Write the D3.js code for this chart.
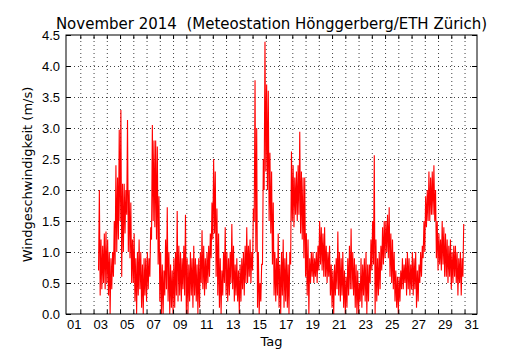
<!DOCTYPE html>
<html>
<head>
<meta charset="utf-8">
<script src="https://cdn.jsdelivr.net/npm/d3@7"></script>
<style>
  body { margin: 0; background: white; }
  svg { font-family: "DejaVu Sans", sans-serif; }
  .grid line { stroke: #000; stroke-dasharray: 1,3; stroke-width: 1; opacity: 0.75; }
  .grid path { display: none; }
  .ticks path { display: none; }
  .ticks line { stroke: #000; }
  .labels path, .labels line { display: none; }
</style>
</head>
<body>
<svg id="chart"></svg>
<script>
// x labels (day of month) and y ticks
let dayLabels = ["01","03","05","07","09","11","13","15","17","19","21","23","25","27","29","31"];
let yTickValues = [0, 0.5, 1.0, 1.5, 2.0, 2.5, 3.0, 3.5, 4.0, 4.5];

// wind speed, min and max of every 3 hour block
// first block starts Nov 3 09:00 (days counted from Nov 1 00:00)
let firstBlock = 2.375;
let blockLength = 0.125;

let windLow = [
  0.7,0.3,0.4,0.5,0.4,                 // 03
  0.5,0.3,0.0,0.4,0.6,0.8,1.0,1.2,     // 04
  1.5,0.6,1.0,1.3,1.6,1.0,0.9,0.5,     // 05
  0.5,0.2,0.0,0.3,0.4,0.1,0.0,0.3,     // 06
  0.2,0.4,0.6,1.2,1.5,1.4,1.2,0.8,     // 07
  0.2,0.0,0.0,0.3,0.4,0.2,0.0,0.1,     // 08
  0.0,0.1,0.3,0.2,0.3,0.2,0.4,0.3,     // 09
  0.0,0.0,0.2,0.3,0.1,0.3,0.2,0.0,     // 10
  0.1,0.5,0.4,0.3,0.4,0.5,0.6,0.9,     // 11
  1.2,1.3,0.6,0.3,0.1,0.0,0.3,0.5,     // 12
  0.3,0.2,0.3,0.5,0.4,0.2,0.3,0.2,     // 13
  0.0,0.2,0.4,0.3,0.5,0.5,0.6,0.5,     // 14
  0.7,1.5,1.0,0.1,0.0,0.2,0.8,2.0,     // 15
  2.3,2.0,1.5,1.3,0.8,0.3,0.2,0.3,     // 16
  0.1,0.0,0.3,0.1,0.2,0.1,0.0,0.8,     // 17
  1.5,1.4,1.6,1.5,1.6,1.3,1.2,0.9,     // 18
  0.6,0.3,0.0,0.5,0.6,0.5,0.6,0.5,     // 19
  0.7,0.8,0.7,0.6,0.6,0.5,0.6,0.3,     // 20
  0.1,0.0,0.3,0.4,0.3,0.2,0.3,0.1,     // 21
  0.0,0.1,0.3,0.4,0.4,0.3,0.1,0.0,     // 22
  0.0,0.2,0.1,0.3,0.2,0.0,0.2,0.5,     // 23
  0.7,0.8,0.0,0.2,0.3,0.4,0.7,0.8,     // 24
  0.9,1.0,0.9,0.6,0.5,0.4,0.2,0.1,     // 25
  0.0,0.2,0.4,0.4,0.5,0.3,0.4,0.3,     // 26
  0.4,0.3,0.4,0.1,0.2,0.5,0.6,0.9,     // 27
  1.0,1.4,1.5,1.5,1.6,1.6,1.5,0.9,     // 28
  0.7,0.8,0.7,0.8,0.6,0.6,0.5,0.6,     // 29
  0.4,0.5,0.6,0.5,0.3,0.5,0.3,0.6      // 30
];

let windHigh = [
  2.0,1.2,1.1,1.3,1.33,                // 03
  1.2,1.0,0.9,1.0,1.5,2.4,2.2,2.97,    // 04
  3.29,2.1,2.1,2.0,3.13,2.0,1.8,1.2,   // 05
  1.3,0.9,1.0,1.2,1.0,0.8,0.9,0.9,     // 06
  1.0,0.9,1.4,3.05,2.8,2.8,2.7,1.9,    // 07
  1.0,0.8,0.7,1.2,1.72,1.0,0.8,0.7,    // 08
  0.9,1.0,1.66,1.1,1.0,0.9,1.1,1.6,    // 09
  0.9,0.8,1.0,0.9,1.1,0.9,0.8,0.9,     // 10
  1.0,1.35,1.1,0.9,1.0,1.1,1.3,1.8,    // 11
  2.5,2.3,1.7,1.3,0.9,0.7,1.0,1.4,     // 12
  1.0,0.9,1.0,1.45,1.1,0.8,0.9,0.7,    // 13
  0.8,0.9,1.0,1.1,1.4,1.1,1.2,1.0,     // 14
  1.7,3.77,3.0,1.0,0.5,0.8,2.5,4.39,   // 15
  3.7,3.6,2.6,2.3,1.8,1.0,0.9,1.3,     // 16
  0.8,1.0,1.2,0.9,1.0,0.8,1.0,2.62,    // 17
  2.4,2.2,2.3,2.4,2.94,2.3,2.2,2.2,    // 18
  1.3,1.2,0.9,1.0,1.0,0.9,1.0,1.1,     // 19
  1.5,1.4,1.3,1.4,1.1,1.0,1.1,0.8,     // 20
  0.7,0.8,0.9,1.33,1.0,0.9,1.0,0.7,    // 21
  0.6,0.9,1.1,1.38,1.0,0.9,0.8,0.7,    // 22
  0.5,0.9,0.8,0.9,1.0,0.8,0.8,1.2,     // 23
  1.5,2.56,1.2,0.9,1.0,1.1,1.4,1.5,    // 24
  1.5,1.6,1.72,1.3,1.2,1.0,0.7,0.6,    // 25
  0.6,0.7,0.9,0.8,0.9,1.0,0.9,0.8,     // 26
  1.0,0.9,1.0,0.7,0.8,1.0,1.1,1.5,     // 27
  1.9,2.0,2.3,2.2,2.3,2.4,2.0,1.5,     // 28
  1.3,1.2,1.5,1.4,1.3,1.2,1.1,1.2,     // 29
  1.0,1.1,1.1,1.0,0.9,1.0,0.9,1.45     // 30
];

function getConfig() {
  let width = 530;
  let height = 350;
  let margin = { top: 35, bottom: 36, left: 66, right: 53 };
  let bodyWidth = width - margin.left - margin.right;
  let bodyHeight = height - margin.top - margin.bottom;
  let container = d3.select("#chart")
    .attr("width", width)
    .attr("height", height);
  return { width, height, margin, bodyWidth, bodyHeight, container };
}

function getScales(config) {
  let { bodyWidth, bodyHeight } = config;
  // days since Nov 1 00:00
  let xScale = d3.scaleLinear()
    .domain([-0.08, 30.94])
    .range([0, bodyWidth]);
  let yScale = d3.scaleLinear()
    .domain([0, 4.5])
    .range([bodyHeight, 0]);
  return { xScale, yScale };
}

function drawGrid(scales, config) {
  let { xScale, yScale } = scales;
  let { container, margin, bodyWidth, bodyHeight } = config;
  let dayLines = d3.range(1, 31);

  container.append("g")
    .attr("class", "grid")
    .attr("transform", `translate(${margin.left},${margin.top + bodyHeight})`)
    .call(d3.axisBottom(xScale).tickValues(dayLines).tickSize(-bodyHeight).tickFormat(""));

  container.append("g")
    .attr("class", "grid")
    .attr("transform", `translate(${margin.left},${margin.top})`)
    .call(d3.axisLeft(yScale).tickValues(yTickValues.slice(1, -1)).tickSize(-bodyWidth).tickFormat(""));
}

function drawWind(scales, config) {
  let { xScale, yScale } = scales;
  let { container, margin, bodyWidth, bodyHeight } = config;

  let points = [];
  windLow.forEach((lo, i) => {
    let t = firstBlock + i * blockLength;
    points.push([t, lo]);
    points.push([t + blockLength / 2, windHigh[i]]);
  });

  container.append("clipPath").attr("id", "clip")
    .append("rect").attr("width", bodyWidth).attr("height", bodyHeight);

  let line = d3.line()
    .x(d => xScale(d[0]))
    .y(d => yScale(d[1]));

  container.append("g")
    .attr("transform", `translate(${margin.left},${margin.top})`)
    .attr("clip-path", "url(#clip)")
    .append("path")
    .datum(points)
    .attr("d", line)
    .attr("fill", "none")
    .attr("stroke", "#ff0000")
    .attr("stroke-width", 1.1)
    .attr("stroke-linejoin", "miter");
}

function drawAxes(scales, config) {
  let { xScale, yScale } = scales;
  let { container, margin, bodyWidth, bodyHeight } = config;
  let dayLines = d3.range(1, 31);

  // inward ticks on all four sides
  container.append("g").attr("class", "ticks")
    .attr("transform", `translate(${margin.left},${margin.top + bodyHeight})`)
    .call(d3.axisBottom(xScale).tickValues(dayLines).tickSize(-4).tickFormat(""));
  container.append("g").attr("class", "ticks")
    .attr("transform", `translate(${margin.left},${margin.top})`)
    .call(d3.axisTop(xScale).tickValues(dayLines).tickSize(-4).tickFormat(""));
  container.append("g").attr("class", "ticks")
    .attr("transform", `translate(${margin.left},${margin.top})`)
    .call(d3.axisLeft(yScale).tickValues(yTickValues).tickSize(-5).tickFormat(""));
  container.append("g").attr("class", "ticks")
    .attr("transform", `translate(${margin.left + bodyWidth},${margin.top})`)
    .call(d3.axisRight(yScale).tickValues(yTickValues).tickSize(-5).tickFormat(""));

  // day labels sit at noon of every second day
  let labelAt = dayLabels.map(s => +s - 0.5);
  let xLabels = container.append("g").attr("class", "labels")
    .attr("transform", `translate(${margin.left},${margin.top + bodyHeight})`)
    .call(d3.axisBottom(xScale).tickValues(labelAt).tickSize(0).tickPadding(6)
      .tickFormat((d, i) => dayLabels[i]));
  xLabels.selectAll("text").attr("font-size", 13).attr("fill", "#000").attr("font-family", null);

  let yLabels = container.append("g").attr("class", "labels")
    .attr("transform", `translate(${margin.left},${margin.top})`)
    .call(d3.axisLeft(yScale).tickValues(yTickValues).tickSize(0).tickPadding(6)
      .tickFormat(d3.format(".1f")));
  yLabels.selectAll("text").attr("font-size", 13).attr("fill", "#000").attr("font-family", null);

  // frame
  container.append("rect")
    .attr("x", margin.left).attr("y", margin.top)
    .attr("width", bodyWidth).attr("height", bodyHeight)
    .attr("fill", "none").attr("stroke", "#000").attr("stroke-width", 1);

  container.append("text")
    .attr("x", margin.left + bodyWidth / 2).attr("y", 29)
    .attr("text-anchor", "middle").attr("font-size", 15)
    .style("white-space", "pre")
    .text("November 2014  (Meteostation Hönggerberg/ETH Zürich)");

  container.append("text")
    .attr("x", margin.left + bodyWidth / 2).attr("y", 346)
    .attr("text-anchor", "middle").attr("font-size", 13)
    .text("Tag");

  container.append("text")
    .attr("transform", `translate(32,${margin.top + bodyHeight / 2}) rotate(-90)`)
    .attr("text-anchor", "middle").attr("font-size", 13)
    .text("Windgeschwindigkeit (m/s)");
}

function showChart() {
  let config = getConfig();
  let scales = getScales(config);
  drawGrid(scales, config);
  drawWind(scales, config);
  drawAxes(scales, config);
}

showChart();
</script>
</body>
</html>
